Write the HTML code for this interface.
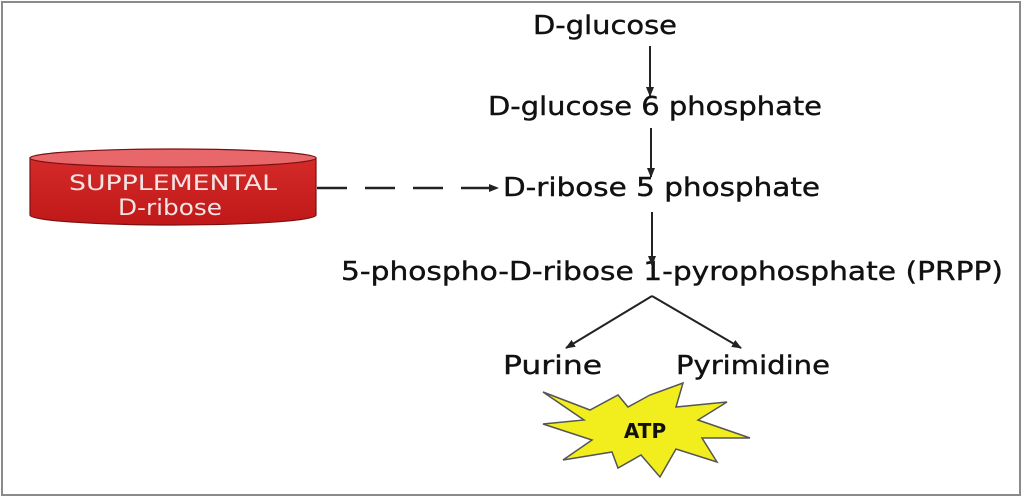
<!DOCTYPE html>
<html><head><meta charset="utf-8"><style>
html,body{margin:0;padding:0;background:#fff;}
svg{display:block;}
text{font-family:"DejaVu Sans","Liberation Sans",sans-serif;}
</style></head><body>
<svg width="1023" height="498" viewBox="0 0 1023 498" xmlns="http://www.w3.org/2000/svg">
<defs>
<marker id="ah" markerWidth="10" markerHeight="10" refX="9" refY="5" orient="auto" markerUnits="userSpaceOnUse">
<path d="M0,1 L10,5 L0,9 Z" fill="#222"/>
</marker>
<linearGradient id="cyl" x1="0" y1="0" x2="0" y2="1">
<stop offset="0" stop-color="#d42a2a"/><stop offset="1" stop-color="#c01818"/>
</linearGradient>
</defs>
<rect x="2" y="2" width="1018" height="493" fill="#fff" stroke="#8a8a8a" stroke-width="2"/>

<path d="M30,158 L30,215 A143,10 0 0 0 316,215 L316,158 Z" fill="url(#cyl)" stroke="#7a1010" stroke-width="1.2"/>
<ellipse cx="173" cy="158" rx="143" ry="9" fill="#e8676b" stroke="#7a1010" stroke-width="1.2"/>
<text x="173" y="190" font-size="21" fill="#f4e4e4" text-anchor="middle" textLength="208" lengthAdjust="spacingAndGlyphs">SUPPLEMENTAL</text>
<text x="170" y="215" font-size="22" fill="#f4e4e4" text-anchor="middle" textLength="104" lengthAdjust="spacingAndGlyphs">D-ribose</text>

<line x1="317" y1="188" x2="498" y2="188" stroke="#222" stroke-width="2.5" stroke-dasharray="30,18" marker-end="url(#ah)"/>

<g fill="#111" stroke="#111" stroke-width="0.4" font-size="26">
<text x="533" y="34" textLength="144" lengthAdjust="spacingAndGlyphs">D-glucose</text>
<text x="488" y="115" textLength="334" lengthAdjust="spacingAndGlyphs">D-glucose 6 phosphate</text>
<text x="503" y="196" textLength="317" lengthAdjust="spacingAndGlyphs">D-ribose 5 phosphate</text>
<text x="341" y="280" textLength="662" lengthAdjust="spacingAndGlyphs">5-phospho-D-ribose 1-pyrophosphate (PRPP)</text>
<text x="503" y="374" textLength="99" lengthAdjust="spacingAndGlyphs">Purine</text>
<text x="676" y="374" textLength="154" lengthAdjust="spacingAndGlyphs">Pyrimidine</text>
</g>

<line x1="650" y1="46" x2="650" y2="96" stroke="#222" stroke-width="2" marker-end="url(#ah)"/>
<line x1="651" y1="128" x2="651" y2="177" stroke="#222" stroke-width="2" marker-end="url(#ah)"/>
<line x1="652" y1="212" x2="652" y2="265" stroke="#222" stroke-width="2" marker-end="url(#ah)"/>
<line x1="652" y1="296" x2="566" y2="348" stroke="#222" stroke-width="2" marker-end="url(#ah)"/>
<line x1="652" y1="296" x2="741" y2="348" stroke="#222" stroke-width="2" marker-end="url(#ah)"/>

<polygon points="543,392 590,410 618,395 628,407 650,395 683,383 676,407 727,402 698,420 750,438 702,438 717,462 676,449 660,477 641,455 618,468 612,452 563,460 592,440 543,424 584,420" fill="#f2ee1e" stroke="#555" stroke-width="1.5" stroke-linejoin="miter"/>
<text x="645" y="438" font-size="20" font-weight="bold" fill="#111" text-anchor="middle">ATP</text>
</svg>
</body></html>
